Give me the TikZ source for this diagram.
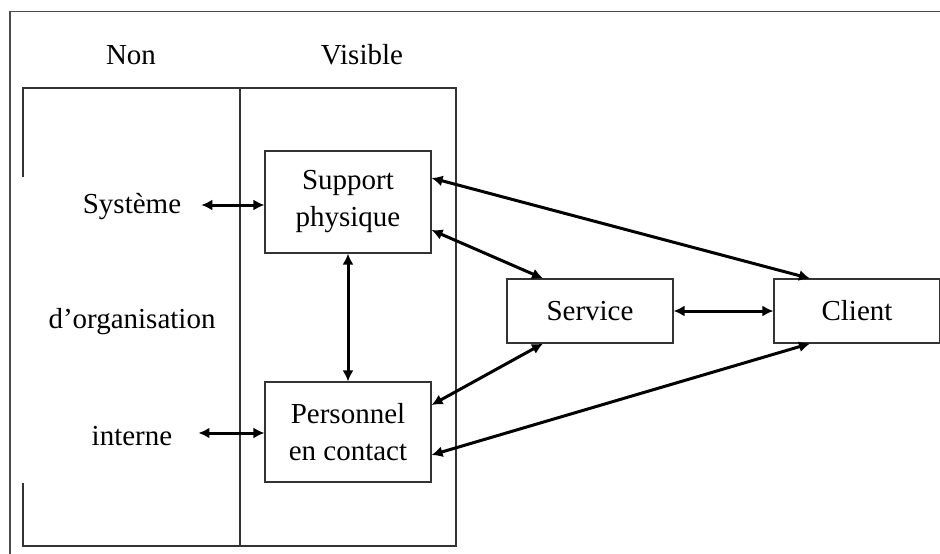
\documentclass[tikz,border=0pt]{standalone}
\usepackage{fontspec}
\setmainfont{Liberation Serif}
\usetikzlibrary{arrows.meta}
\begin{document}
\begin{tikzpicture}[x=1pt,y=-1pt,
  frame/.style={draw=black!70,line width=1.3pt},
  thin/.style={draw=black!80,line width=1.1pt},
  box/.style={draw=black!80,line width=1.1pt,inner sep=0pt,align=center,font=\fontsize{29}{37}\selectfont},
  lbl/.style={inner sep=0pt,font=\fontsize{29}{37}\selectfont},
  biarrow/.style={{Latex[length=11pt,width=11pt]}-{Latex[length=11pt,width=11pt]},line width=3pt,black}]
\useasboundingbox[fill=white] (0,0) rectangle (940,554);
% outer frame (open to right and bottom)
\draw[frame] (940,11.5) -- (10,11.5) -- (10,554);
% big box
\draw[thin] (23,177) -- (23,88) -- (456,88) -- (456,546) -- (23,546) -- (23,483);
\draw[thin] (240,88) -- (240,546);
% labels
\node[lbl] (non) at (131,55) {Non};
\node[lbl] (vis) at (362,55) {Visible};
\node[lbl] (sys) at (132,207) {Système};
\node[lbl] (org) at (132,322) {d’organisation};
\node[lbl] (int) at (132,436) {interne};
% boxes
\node[box,minimum width=166pt,minimum height=102pt] (sp) at (348,202) {Support\\physique};
\node[box,minimum width=166pt,minimum height=100pt] (pc) at (348,432) {Personnel\\en contact};
\node[box,minimum width=166pt,minimum height=64pt] (sv) at (590,311) {Service};
\node[box,minimum width=166pt,minimum height=64pt] (cl) at (857,311) {Client};
% arrows
\draw[biarrow] ([xshift=20pt,yshift=2pt]sys.east) -- ([yshift=-3pt]sp.west);
\draw[biarrow] ([xshift=26pt,yshift=3pt]int.east) -- ([yshift=-1pt]pc.west);
\draw[biarrow] (sp.south) -- (pc.north);
\draw[biarrow] ([yshift=24pt]sp.east) -- ([xshift=-47pt]cl.north);
\draw[biarrow] ([yshift=-28pt]sp.east) -- ([xshift=-47pt]sv.north);
\draw[biarrow] ([yshift=27pt]pc.east) -- ([xshift=-47pt]sv.south);
\draw[biarrow] ([yshift=-23pt]pc.east) -- ([xshift=-47pt]cl.south);
\draw[biarrow] (sv.east) -- (cl.west);
\end{tikzpicture}
\end{document}
